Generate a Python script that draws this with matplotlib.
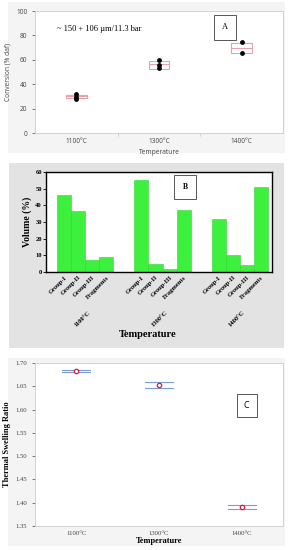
import matplotlib
matplotlib.use('Agg')
import matplotlib.pyplot as plt
from matplotlib.patches import Rectangle
from matplotlib.transforms import blended_transform_factory
import numpy as np


# Data
temps = ['1100°C', '1300°C', '1400°C']

# A: conversion (% daf)
conv_points = [[28.0, 29.9, 31.8], [53.0, 55.9, 59.5], [65.2, 74.2]]
conv_low = [28.5, 52.8, 65.2]
conv_high = [31.3, 59.2, 73.8]
conv_median = [30.0, 56.2, 69.5]

# B: volume (%) per char group
groups = ['Group-I', 'Group-II', 'Group-III', 'Fragments']
vol_1100 = [46, 36.5, 7.5, 9]
vol_1300 = [55, 5, 2, 37.5]
vol_1400 = [32, 10.5, 4, 51]

# C: thermal swelling ratio
tsr_mean = [1.683, 1.653, 1.391]
tsr_upper = [1.686, 1.659, 1.396]
tsr_lower = [1.681, 1.647, 1.3855]

serif = 'Liberation Serif'
sans = 'Open Sans'

fig = plt.figure(figsize=(2.93, 5.5), dpi=100)
W, H = 293, 550


def px_axes(x0, y0, x1, y1):
    return fig.add_axes([x0 / W, 1 - y1 / H, (x1 - x0) / W, (y1 - y0) / H])


# panel backgrounds
fig.patches.append(Rectangle((8 / W, 1 - 153 / H), 277 / W, 151 / H, transform=fig.transFigure,
                             facecolor='#f4f4f4', edgecolor='none', zorder=-5))
fig.patches.append(Rectangle((9 / W, 1 - 348 / H), 275 / W, 185 / H, transform=fig.transFigure,
                             facecolor='#e3e3e3', edgecolor='none', zorder=-5))
fig.patches.append(Rectangle((8 / W, 1 - 546 / H), 277 / W, 188 / H, transform=fig.transFigure,
                             facecolor='#f4f4f4', edgecolor='none', zorder=-5))


# Panel A
axA = px_axes(35, 11, 283, 133)
x = np.arange(len(temps))
axA.bar(x, np.array(conv_high) - np.array(conv_low), bottom=conv_low, width=0.25,
        facecolor='none', edgecolor='#e8a0aa', linewidth=0.8)
for i, m in enumerate(conv_median):
    axA.plot([i - 0.125, i + 0.125], [m, m], color='#e8a0aa', lw=0.8)
    axA.scatter([i] * len(conv_points[i]), conv_points[i], s=6, color='black', zorder=3)
axA.set_xlim(-0.5, 2.5)
axA.set_ylim(0, 100)
axA.set_yticks([0, 20, 40, 60, 80, 100])
axA.set_xticks(x)
axA.set_xticklabels(temps)
axA.set_xticks([0.5, 1.5], minor=True)
axA.tick_params(labelsize=4.7, colors='#444444', length=2, width=0.5)
axA.tick_params(axis='x', which='major', length=0)
axA.tick_params(axis='x', which='minor', length=2, color='#cccccc')
for s in axA.spines.values():
    s.set_color('#cccccc')
    s.set_linewidth(0.6)
for lab in axA.get_xticklabels() + axA.get_yticklabels():
    lab.set_fontfamily(sans)
axA.set_xlabel('Temperature', fontsize=4.8, family=sans, color='#444444', labelpad=3)
axA.set_ylabel('Conversion (% daf)', fontsize=4.8, family=sans, color='#444444', labelpad=3)
axA.text(0.09, 0.855, '~ 150 + 106 µm/11.3 bar', transform=axA.transAxes, fontsize=6,
         family=serif, va='center')
axA.text(0.766, 0.865, 'A', transform=axA.transAxes, fontsize=6, family=serif,
         ha='center', va='center',
         bbox=dict(boxstyle='square,pad=1.0', facecolor='white', edgecolor='#555555', lw=0.7))


# Panel B
axB = px_axes(46, 172, 272, 272)
gap = 5.5
pos = []
heights = []
for gi, vals in enumerate([vol_1100, vol_1300, vol_1400]):
    for j, v in enumerate(vals):
        pos.append(gi * gap + j)
        heights.append(v)
axB.bar(pos, heights, width=1.0, color='#3ef03e', edgecolor='#35d235', linewidth=0.4)
axB.set_xlim(-1.3, 2 * gap + 3 + 0.8)
axB.set_ylim(0, 60)
axB.set_yticks(range(0, 61, 10))
axB.set_xticks(pos)
axB.set_xticklabels(groups * 3, rotation=45, ha='right', rotation_mode='anchor')
axB.tick_params(axis='y', labelsize=4.7, length=2, width=0.6, pad=1)
axB.tick_params(axis='x', labelsize=4.7, length=0, pad=2)
for lab in axB.get_xticklabels() + axB.get_yticklabels():
    lab.set_fontfamily(serif)
    lab.set_fontweight('bold')
for s in axB.spines.values():
    s.set_color('black')
    s.set_linewidth(1.0)
axB.set_facecolor('white')
tr = blended_transform_factory(axB.transData, axB.transAxes)
for gi, t in enumerate(temps):
    axB.text(gi * gap + 1.7, -0.38, t, transform=tr, rotation=45, ha='right', va='top',
             rotation_mode='anchor', fontsize=4.7, family=serif, fontweight='bold')
axB.text(0.45, -0.62, 'Temperature', transform=axB.transAxes, ha='center', va='center',
         fontsize=7.5, family=serif, fontweight='bold')
axB.set_ylabel('Volume (%)', fontsize=7, family=serif, fontweight='bold', labelpad=2)
axB.text(0.615, 0.85, 'B', transform=axB.transAxes, fontsize=5.5, family=serif,
         fontweight='bold', ha='center', va='center',
         bbox=dict(boxstyle='square,pad=1.1', facecolor='white', edgecolor='#555555', lw=0.7))


# Panel C
axC = px_axes(35, 363, 283, 526)
for i in range(len(temps)):
    axC.plot([i - 0.17, i + 0.17], [tsr_upper[i]] * 2, color='#7b9bd6', lw=0.8)
    axC.plot([i - 0.17, i + 0.17], [tsr_lower[i]] * 2, color='#7b9bd6', lw=0.8)
axC.scatter(x, tsr_mean, s=10, facecolor='white', edgecolor='#d0203a', linewidth=0.9, zorder=3)
axC.set_xlim(-0.5, 2.5)
axC.set_ylim(1.35, 1.70)
axC.set_yticks(np.arange(1.35, 1.701, 0.05))
axC.set_yticklabels(['%.2f' % v for v in np.arange(1.35, 1.701, 0.05)])
axC.set_xticks(x)
axC.set_xticklabels(temps)
axC.tick_params(labelsize=4.8, colors='#444444', length=2, width=0.5)
axC.tick_params(axis='x', length=0)
for lab in axC.get_xticklabels() + axC.get_yticklabels():
    lab.set_fontfamily(serif)
for s in axC.spines.values():
    s.set_color('#cccccc')
    s.set_linewidth(0.6)
axC.set_xlabel('Temperature', fontsize=6, family=serif, fontweight='bold', labelpad=1)
axC.set_ylabel('Thermal Swelling Ratio', fontsize=6, family=serif, fontweight='bold', labelpad=3)
axC.text(0.853, 0.74, 'C', transform=axC.transAxes, fontsize=6.5, family=sans,
         ha='center', va='center',
         bbox=dict(boxstyle='square,pad=0.8', facecolor='white', edgecolor='#555555', lw=0.7))

fig.savefig('out.png', dpi=100)
